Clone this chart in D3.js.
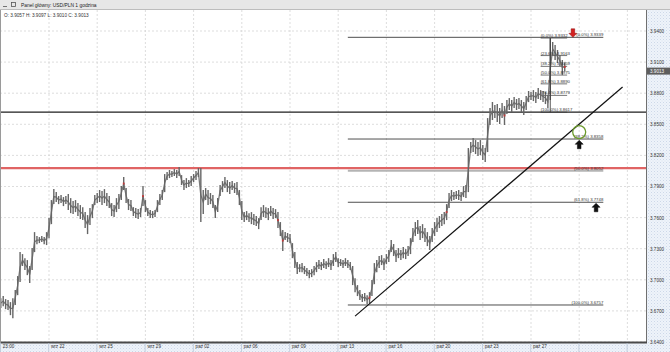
<!DOCTYPE html>
<html><head><meta charset="utf-8">
<script src="https://cdn.jsdelivr.net/npm/d3@7"></script>
<style>
body{margin:0;background:#fff;}
svg{display:block;font-family:"Liberation Sans","DejaVu Sans",Arial,sans-serif;}
</style>
</head><body>
<svg id="c" width="670" height="352"></svg>
<script>
// ---------------- DATA (USD/PLN, 1h bars) ----------------
const highs = [
3.6823,3.6843,3.6814,3.6804,3.6785,3.6823,3.6901,3.7036,3.7267,3.7248,
3.7209,3.7190,3.7133,3.7306,3.7460,3.7422,3.7412,3.7422,3.7412,3.7460,
3.7595,3.7769,3.7875,3.7846,3.7808,3.7817,3.7798,3.7808,3.7827,3.7788,
3.7759,3.7769,3.7740,3.7721,3.7701,3.7653,3.7624,3.7692,3.7730,3.7817,
3.7837,3.7866,3.7856,3.7875,3.7837,3.7808,3.7740,3.7721,3.7788,3.7827,
3.7904,3.7991,3.7885,3.7779,3.7769,3.7701,3.7692,3.7682,3.7692,3.7904,
3.7769,3.7692,3.7673,3.7663,3.7673,3.7769,3.7827,3.7866,3.8020,3.8039,
3.8059,3.8049,3.8068,3.8059,3.8088,3.8010,3.7962,3.7981,3.7962,3.8001,
3.8020,3.8049,3.8078,3.8078,3.7866,3.7885,3.7866,3.7837,3.7817,3.7721,
3.7788,3.7914,3.7952,3.7991,3.7962,3.7943,3.7952,3.7933,3.7943,3.7866,
3.7759,3.7653,3.7663,3.7643,3.7653,3.7634,3.7615,3.7595,3.7701,3.7721,
3.7701,3.7692,3.7711,3.7692,3.7682,3.7653,3.7557,3.7480,3.7460,3.7451,
3.7441,3.7354,3.7267,3.7171,3.7151,3.7161,3.7133,3.7113,3.7094,3.7103,
3.7133,3.7171,3.7190,3.7171,3.7200,3.7180,3.7209,3.7190,3.7248,3.7267,
3.7209,3.7200,3.7190,3.7209,3.7190,3.7171,3.7133,3.7016,3.6949,3.6901,
3.6862,3.6872,3.6852,3.6881,3.6997,3.7161,3.7190,3.7229,3.7238,3.7209,
3.7248,3.7287,3.7383,3.7345,3.7287,3.7306,3.7287,3.7316,3.7296,3.7325,
3.7402,3.7499,3.7557,3.7576,3.7518,3.7537,3.7499,3.7460,3.7422,3.7499,
3.7557,3.7595,3.7615,3.7634,3.7653,3.7730,3.7837,3.7866,3.7846,3.7856,
3.7866,3.7846,3.7904,3.7914,3.8271,3.8329,3.8367,3.8348,3.8329,3.8348,
3.8300,3.8271,3.8560,3.8657,3.8715,3.8686,3.8696,3.8657,3.8705,3.8676,
3.8734,3.8753,3.8734,3.8763,3.8744,3.8753,3.8734,3.8715,3.8772,3.8821,
3.8811,3.8830,3.8811,3.8850,3.8830,3.8821,3.8811,3.8782,3.9339,3.9294,
3.9265,3.9217,3.9168,3.9120,3.9097];
const lows = [
3.6727,3.6746,3.6717,3.6708,3.6659,3.6630,3.6756,3.6852,3.6978,3.7133,
3.7094,3.7045,3.6968,3.7094,3.7267,3.7344,3.7354,3.7364,3.7344,3.7335,
3.7402,3.7537,3.7730,3.7750,3.7730,3.7740,3.7711,3.7730,3.7673,3.7643,
3.7634,3.7653,3.7615,3.7586,3.7576,3.7499,3.7441,3.7528,3.7595,3.7721,
3.7740,3.7750,3.7721,3.7740,3.7711,3.7692,3.7615,3.7605,3.7653,3.7682,
3.7769,3.7866,3.7740,3.7673,3.7663,3.7615,3.7595,3.7586,3.7605,3.7711,
3.7653,3.7615,3.7595,3.7595,3.7605,3.7653,3.7721,3.7769,3.7846,3.7962,
3.7981,3.7991,3.8001,3.7981,3.8001,3.7914,3.7866,3.7885,3.7895,3.7904,
3.7943,3.7962,3.7991,3.7557,3.7634,3.7769,3.7721,3.7730,3.7692,3.7595,
3.7653,3.7808,3.7846,3.7885,3.7846,3.7827,3.7866,3.7837,3.7817,3.7721,
3.7576,3.7557,3.7576,3.7557,3.7537,3.7528,3.7518,3.7489,3.7576,3.7605,
3.7595,3.7576,3.7615,3.7586,3.7595,3.7499,3.7422,3.7277,3.7383,3.7364,
3.7354,3.7209,3.7113,3.7055,3.7074,3.7074,3.7055,3.7036,3.7016,3.7026,
3.7045,3.7074,3.7103,3.7094,3.7113,3.7103,3.7123,3.7094,3.7133,3.7171,
3.7123,3.7133,3.7113,3.7133,3.7113,3.7094,3.6949,3.6881,3.6843,3.6804,
3.6785,3.6794,3.6766,3.6775,3.6843,3.6958,3.7074,3.7113,3.7142,3.7094,
3.7151,3.7171,3.7267,3.7229,3.7171,3.7209,3.7190,3.7209,3.7200,3.7229,
3.7248,3.7364,3.7422,3.7441,3.7383,3.7402,3.7364,3.7325,3.7287,3.7364,
3.7422,3.7460,3.7499,3.7518,3.7537,3.7576,3.7692,3.7759,3.7769,3.7779,
3.7769,3.7759,3.7798,3.7788,3.7846,3.8223,3.8232,3.8213,3.8194,3.8203,
3.8155,3.8136,3.8232,3.8493,3.8541,3.8560,3.8522,3.8503,3.8560,3.8493,
3.8599,3.8638,3.8618,3.8657,3.8638,3.8647,3.8618,3.8589,3.8638,3.8714,
3.8734,3.8724,3.8705,3.8743,3.8734,3.8714,3.8695,3.8657,3.8734,3.9159,
3.9120,3.9091,3.9062,3.8975,3.9010];
const redBars = [51, 59, 115, 117, 153, 185, 209, 234];

const yTicks = [3.64,3.67,3.70,3.73,3.76,3.79,3.82,3.85,3.88,3.91,3.94];
const xTickIdx = [0,20,40,60,80,100,120,140,160,180,200,220];
const xTickLabels = ["23:00","wrz 22","wrz 25","wrz 29","paź 02","paź 06","paź 09","paź 13","paź 16","paź 20","paź 23","paź 27"];
const gridIdx = [20,40,60,80,100,120,140,160,180,200,220,240,260];

const supportLevel = 3.8617;
const resistanceLevel = 3.8078;
const trendIdx = [147, 258];
const trendVal = [3.6650, 3.8860];

const bigFibNames = ["0.0","38.2","50.0","61.8","100.0"];
const bigFibValues = [3.9339, 3.8358, 3.8052, 3.7748, 3.6757];
const bigFibSpan = [144, 250];
const smallFibNames = ["0.0","23.6","38.2","50.0","61.8","76.4","100.0"];
const smallFibValues = [3.9332, 3.9163, 3.9059, 3.8975, 3.8890, 3.8779, 3.8617];
const smallFibSpan = [224, 235];
const smallFibAnchor = 228;

const arrowIdx = [237.4, 240, 247];
const arrowVal = [3.9339, 3.8346, 3.7738];
const arrowDir = ["down","up","up"];
const circleIdx = 240, circleVal = 3.8425;

const lastOHLC = {O:3.9057, H:3.9097, L:3.9010, C:3.9013};
const title = "Panel główny: USD/PLN 1 godzina";

// ---------------- DRAW ----------------
const svg = d3.select("#c");
const plotR = 646, plotT = 10, plotB = 343;
const x = d3.scaleLinear().domain([0, 268]).range([0.8, 0.8 + 268 * 2.41]);
const y = d3.scaleLinear().domain([3.64, 3.94]).range([342, 31]);
const fmt = d3.format(".4f");

const defs = svg.append("defs");
defs.append("clipPath").attr("id","clip").append("rect")
  .attr("x",0).attr("y",plotT).attr("width",plotR).attr("height",plotB-plotT);
const pat = defs.append("pattern").attr("id","dots").attr("width",3).attr("height",3)
  .attr("patternUnits","userSpaceOnUse");
pat.append("rect").attr("width",3).attr("height",3).attr("fill","#eef3fa");
pat.append("rect").attr("x",0).attr("y",0).attr("width",1).attr("height",1).attr("fill","#cdd8e8");
pat.append("rect").attr("x",1.5).attr("y",1.5).attr("width",1).attr("height",1).attr("fill","#dbe4f0");

svg.append("rect").attr("width",670).attr("height",352).attr("fill","#fff");

// axis panels
svg.append("rect").attr("x",plotR).attr("y",plotT).attr("width",670-plotR).attr("height",352-plotT).attr("fill","url(#dots)");
svg.append("rect").attr("x",0).attr("y",plotB).attr("width",670).attr("height",352-plotB).attr("fill","url(#dots)");

const plot = svg.append("g").attr("clip-path","url(#clip)");

// grid
plot.selectAll(".hg").data(yTicks).join("line")
  .attr("x1",0).attr("x2",plotR).attr("y1",d=>y(d)).attr("y2",d=>y(d))
  .attr("stroke","#d4d4d4").attr("stroke-width",0.8).attr("stroke-dasharray","2,2");
plot.selectAll(".vg").data(gridIdx).join("line")
  .attr("x1",d=>x(d)).attr("x2",d=>x(d)).attr("y1",plotT).attr("y2",plotB)
  .attr("stroke","#d4d4d4").attr("stroke-width",0.8).attr("stroke-dasharray","2,2");

// big fibonacci lines
plot.selectAll(".bf").data(bigFibValues).join("line")
  .attr("x1",x(bigFibSpan[0])).attr("x2",x(bigFibSpan[1]))
  .attr("y1",d=>y(d)).attr("y2",d=>y(d))
  .attr("stroke",(d,i)=>bigFibNames[i]==="50.0"?"#b4b4b4":"#3a3a3a")
  .attr("stroke-width",(d,i)=>bigFibNames[i]==="50.0"?1.8:0.9);

// support and resistance
plot.append("line").attr("x1",0).attr("x2",plotR).attr("y1",y(resistanceLevel)).attr("y2",y(resistanceLevel))
  .attr("stroke","#e06464").attr("stroke-width",2.2);
plot.append("line").attr("x1",0).attr("x2",plotR).attr("y1",y(supportLevel)).attr("y2",y(supportLevel))
  .attr("stroke","#1e1e1e").attr("stroke-width",1.3);

// small fibonacci lines
plot.selectAll(".sf").data(smallFibValues).join("line")
  .attr("x1",x(smallFibSpan[0])).attr("x2",x(smallFibSpan[1]))
  .attr("y1",d=>y(d)).attr("y2",d=>y(d))
  .attr("stroke","#3a3a3a").attr("stroke-width",0.7);

// candles (high-low bars) + a line through the bars
const bars = highs.map((h,i)=>({i,h,l:lows[i],red:redBars.includes(i)}));
const priceG = plot.append("g");
priceG.append("path").datum(bars)
  .attr("d", d3.line().x(d=>x(d.i)).y(d=>y((d.h+d.l)/2)))
  .attr("fill","none").attr("stroke","#7a7a7a").attr("stroke-width",1.3);
priceG.selectAll(".bar").data(bars).join("line")
  .attr("x1",d=>x(d.i)).attr("x2",d=>x(d.i))
  .attr("y1",d=>y(d.h)).attr("y2",d=>y(d.l))
  .attr("stroke","#666").attr("stroke-width",1.4);
priceG.selectAll(".redb").data(bars.filter(d=>d.red)).join("rect")
  .attr("x",d=>x(d.i)-0.9).attr("width",1.8)
  .attr("y",d=>y((d.h+d.l)/2)-1).attr("height",2)
  .attr("fill","#c03a3a");

// small fib anchor line
plot.append("line").attr("x1",x(smallFibAnchor)).attr("x2",x(smallFibAnchor))
  .attr("y1",y(smallFibValues[0])).attr("y2",y(smallFibValues[smallFibValues.length-1]))
  .attr("stroke","#333").attr("stroke-width",0.8);

// trend line
plot.append("line").attr("x1",x(trendIdx[0])).attr("x2",x(trendIdx[1]))
  .attr("y1",y(trendVal[0])).attr("y2",y(trendVal[1]))
  .attr("stroke","#111").attr("stroke-width",1.2);

// fib labels
const lblSize = "4.3px";
plot.selectAll(".bfl").data(bigFibValues).join("text")
  .attr("x",x(bigFibSpan[1])).attr("y",d=>y(d)-1)
  .attr("text-anchor","end").attr("font-size",lblSize).attr("fill","#333")
  .text((d,i)=>`(${bigFibNames[i]}%) ${fmt(d)}`);
plot.selectAll(".sfl").data(smallFibValues).join("text")
  .attr("x",x(smallFibSpan[0])).attr("y",d=>y(d)-1)
  .attr("text-anchor","start").attr("font-size",lblSize).attr("fill","#333")
  .text((d,i)=>`(${smallFibNames[i]}%) ${fmt(d)}`);

// circle
plot.append("circle").attr("cx",x(circleIdx)).attr("cy",y(circleVal)).attr("r",6.5)
  .attr("fill","none").attr("stroke","#6b9a2c").attr("stroke-width",1.3);

// arrows
const upArrow = "M0,0 L4,4 L1.8,4 L1.8,8.5 L-1.8,8.5 L-1.8,4 L-4,4 Z";
const downArrow = "M0,0 L4,-4 L1.8,-4 L1.8,-8.5 L-1.8,-8.5 L-1.8,-4 L-4,-4 Z";
plot.selectAll(".arr").data(arrowIdx).join("path")
  .attr("transform",(d,i)=>`translate(${x(d)},${y(arrowVal[i])})`)
  .attr("d",(d,i)=>arrowDir[i]==="up"?upArrow:downArrow)
  .attr("fill",(d,i)=>arrowDir[i]==="up"?"#111":"#d42020")
  .attr("stroke",(d,i)=>arrowDir[i]==="up"?"#000":"#8a1010").attr("stroke-width",0.5);

// frame
svg.append("line").attr("x1",plotR+0.5).attr("x2",plotR+0.5).attr("y1",plotT).attr("y2",plotB)
  .attr("stroke","#707070").attr("stroke-width",1);
svg.append("line").attr("x1",0).attr("x2",plotR+1).attr("y1",plotB-0.5).attr("y2",plotB-0.5)
  .attr("stroke","#4a4a4a").attr("stroke-width",2);
svg.append("line").attr("x1",0.5).attr("x2",0.5).attr("y1",plotT).attr("y2",plotB)
  .attr("stroke","#9a9a9a").attr("stroke-width",1);

// y axis
const ya = svg.append("g").attr("transform",`translate(${plotR+4},0)`)
  .call(d3.axisRight(y).tickValues(yTicks).tickSize(0).tickPadding(0).tickFormat(fmt));
ya.select(".domain").remove();
ya.selectAll("text").attr("font-size","4.6px").attr("fill","#333").attr("font-family","Liberation Sans, Arial, sans-serif");

// x axis
const xa = svg.append("g").attr("transform",`translate(0,${plotB})`)
  .call(d3.axisBottom(x).tickValues(xTickIdx).tickSize(0).tickPadding(2)
    .tickFormat((d,i)=>xTickLabels[i]));
xa.select(".domain").remove();
xa.selectAll("text").attr("text-anchor","start").attr("x",1.5)
  .attr("font-size","4.6px").attr("fill","#333").attr("font-family","Liberation Sans, Arial, sans-serif");
svg.selectAll(".xs").data([0].concat(gridIdx)).join("line")
  .attr("x1",d=>x(d)-0.3).attr("x2",d=>x(d)-0.3).attr("y1",plotB).attr("y2",352)
  .attr("stroke","#b9c5d6").attr("stroke-width",0.8);

// current price tag
const tagY = y(lastOHLC.C);
svg.append("rect").attr("x",plotR+1).attr("y",tagY-3.5).attr("width",670-plotR-1).attr("height",7).attr("fill","#5e5e5e");
svg.append("text").attr("x",plotR+4).attr("y",tagY).attr("dy","0.35em")
  .attr("font-size","4.6px").attr("fill","#fff").text(fmt(lastOHLC.C));

// title bar
svg.append("rect").attr("x",0).attr("y",0).attr("width",670).attr("height",9.5).attr("fill","#e7e7e7");
svg.append("line").attr("x1",0).attr("x2",670).attr("y1",9.5).attr("y2",9.5).attr("stroke","#bdbdbd").attr("stroke-width",1);
svg.append("line").attr("x1",3).attr("x2",7).attr("y1",6.5).attr("y2",6.5).attr("stroke","#555").attr("stroke-width",0.8);
svg.append("rect").attr("x",11.5).attr("y",2.5).attr("width",4).attr("height",4).attr("fill","none").attr("stroke","#555").attr("stroke-width",0.8);
svg.append("text").attr("x",21).attr("y",6.8).attr("font-size","4.9px").attr("fill","#222").text(title);

// OHLC line
svg.append("text").attr("x",4).attr("y",17).attr("font-size","4.7px").attr("fill","#333")
  .text(`O: ${fmt(lastOHLC.O)} H: ${fmt(lastOHLC.H)} L: ${fmt(lastOHLC.L)} C: ${fmt(lastOHLC.C)}`);
</script>
</body></html>
